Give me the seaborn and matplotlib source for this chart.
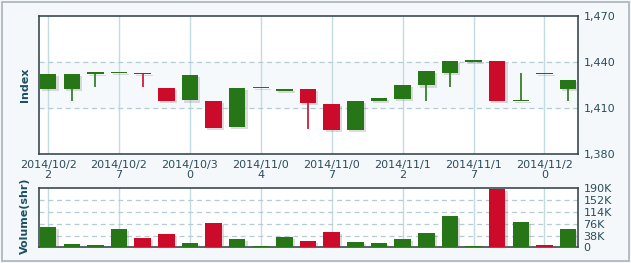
import numpy as np
import pandas as pd
import matplotlib
matplotlib.use("Agg")
import matplotlib.pyplot as plt
import matplotlib.patheffects as pe
from matplotlib.patches import Rectangle
import seaborn as sns

dates = ["2014/10/22", "2014/10/23", "2014/10/24", "2014/10/27", "2014/10/28",
         "2014/10/29", "2014/10/30", "2014/10/31", "2014/11/03", "2014/11/04",
         "2014/11/05", "2014/11/06", "2014/11/07", "2014/11/10", "2014/11/11",
         "2014/11/12", "2014/11/13", "2014/11/14", "2014/11/17", "2014/11/18",
         "2014/11/19", "2014/11/20", "2014/11/21"]
opens = [1422.5, 1422.5, 1432.4, 1432.8, 1433.0, 1423.2, 1414.9, 1414.7, 1397.8, 1422.9,
         1421.0, 1422.5, 1412.7, 1395.8, 1414.3, 1416.0, 1424.7, 1433.1, 1440.3, 1440.7,
         1414.5, 1433.0, 1422.5]
closes = [1432.3, 1432.3, 1433.0, 1433.1, 1432.3, 1414.3, 1431.6, 1396.7, 1423.2, 1423.2,
          1422.5, 1413.0, 1395.8, 1414.7, 1416.6, 1425.1, 1434.2, 1440.7, 1441.0, 1414.3,
          1415.3, 1432.2, 1428.4]
highs = [1432.3, 1432.3, 1433.0, 1433.1, 1433.0, 1423.2, 1431.6, 1414.7, 1423.2, 1423.2,
         1422.5, 1422.5, 1412.7, 1414.7, 1416.6, 1425.1, 1434.2, 1440.7, 1441.0, 1440.7,
         1432.7, 1433.0, 1428.4]
lows = [1422.5, 1414.7, 1423.4, 1432.8, 1424.0, 1414.3, 1414.9, 1396.7, 1397.3, 1422.9,
        1421.0, 1396.5, 1395.8, 1395.8, 1414.3, 1416.0, 1414.7, 1423.4, 1440.3, 1414.3,
        1414.5, 1432.2, 1414.7]
volumes_k = [65.5, 10.7, 7.5, 59.0, 30.0, 44.0, 14.0, 79.4, 26.8, 4.3,
             33.0, 20.4, 49.4, 17.2, 14.0, 26.8, 46.0, 101.0, 4.3, 188.0,
             81.6, 7.5, 59.0]
price_ticks = [1380, 1410, 1440, 1470]
vol_ticks = [0, 38, 76, 114, 152, 190]
vol_tick_labels = ["0", "38K", "76K", "114K", "152K", "190K"]

GREEN = "#267516"
RED = "#cc0a2a"
TXT = "#2a4d5a"
LBL = "#1d5064"
SPINE = "#3b4a50"
VGRID = "#c3dbe2"
HGRID = "#b5ccd5"

n = len(dates)
x = np.arange(n)
up = [c >= o for o, c in zip(opens, closes)]
colors = [GREEN if u else RED for u in up]
df = pd.DataFrame({"idx": x, "vol": volumes_k, "dir": ["up" if u else "down" for u in up]})

W, H = 631, 263
fig = plt.figure(figsize=(W / 100, H / 100), dpi=100)
fig.patch.set_facecolor("#f4f8fa")
fig.patches.append(Rectangle((1.5 / W, 2.0 / H), (W - 3.5) / W, (H - 4) / H,
                             transform=fig.transFigure, fill=False,
                             edgecolor="#a9b3b7", linewidth=1.2))

L, R = 38.7 / W, 578 / W
ax = fig.add_axes([L, 1 - 154 / H, R - L, (154 - 16) / H])
axv = fig.add_axes([L, 1 - 247.3 / H, R - L, (247.3 - 188.3) / H])

xlim = (-0.4, n - 1 + 0.42)
shadow = [pe.SimplePatchShadow(offset=(1.5, -1.5), shadow_rgbFace="#777777", alpha=0.25), pe.Normal()]

# --- price panel
ax.set_facecolor("white")
ax.axhspan(1410, 1440, color="#f6f9fb", zorder=0)
for xi in x[::3]:
    ax.axvline(xi, color=VGRID, lw=1.0, zorder=1)
for yv in [1410, 1440]:
    ax.axhline(yv, color=HGRID, lw=0.9, ls=(0, (4, 3)), zorder=1)

bw = 0.7
for i in range(n):
    ax.vlines(x[i], lows[i], highs[i], color=colors[i], lw=1.2, zorder=3)
    lo = min(opens[i], closes[i])
    hgt = max(abs(closes[i] - opens[i]), 0.8)
    bar = ax.bar(x[i], hgt, bottom=lo, width=bw, color=colors[i], zorder=4, linewidth=0)
    for p in bar:
        p.set_path_effects(shadow)

ax.set_xlim(*xlim)
ax.set_ylim(1380, 1470)
ax.yaxis.tick_right()
ax.set_yticks(price_ticks)
ax.set_yticklabels([f"{v:,}" for v in price_ticks])
ax.set_xticks(x[::3])
ax.set_xticklabels([d[:9] + "\n" + d[9:] for d in dates[::3]], linespacing=1.05)
ax.tick_params(axis="both", length=0, labelsize=8, labelcolor=TXT)
ax.tick_params(axis="y", pad=4)
ax.tick_params(axis="x", pad=4)
for s in ax.spines.values():
    s.set_color(SPINE)
    s.set_linewidth(1.2)

# --- volume panel
axv.set_facecolor("white")
for xi in x[::3]:
    axv.axvline(xi, color=VGRID, lw=1.0, zorder=0)
for yv in vol_ticks[1:-1]:
    axv.axhline(yv, color=HGRID, lw=0.9, ls=(0, (4, 3)), zorder=0)
sns.barplot(data=df, x="idx", y="vol", hue="dir", palette={"up": GREEN, "down": RED},
            dodge=False, legend=False, width=bw, ax=axv, saturation=1, linewidth=0, zorder=3)
for p in axv.patches:
    p.set_path_effects(shadow)
axv.set_xlim(*xlim)
axv.set_ylim(0, 190)
axv.yaxis.tick_right()
axv.set_yticks(vol_ticks)
axv.set_yticklabels(vol_tick_labels)
axv.set_xticks([])
axv.set_xlabel("")
axv.set_ylabel("")
axv.tick_params(axis="both", length=0, labelsize=8, labelcolor=TXT, pad=4)
for s in axv.spines.values():
    s.set_color(SPINE)
    s.set_linewidth(1.2)

fig.text(25 / W, 1 - 85 / H, "Index", rotation=90, ha="center", va="center",
         fontsize=8, fontweight="bold", color=LBL)
fig.text(25 / W, 1 - 216 / H, "Volume(shr)", rotation=90, ha="center", va="center",
         fontsize=8, fontweight="bold", color=LBL)

fig.savefig("out.png", dpi=100, facecolor=fig.get_facecolor())
